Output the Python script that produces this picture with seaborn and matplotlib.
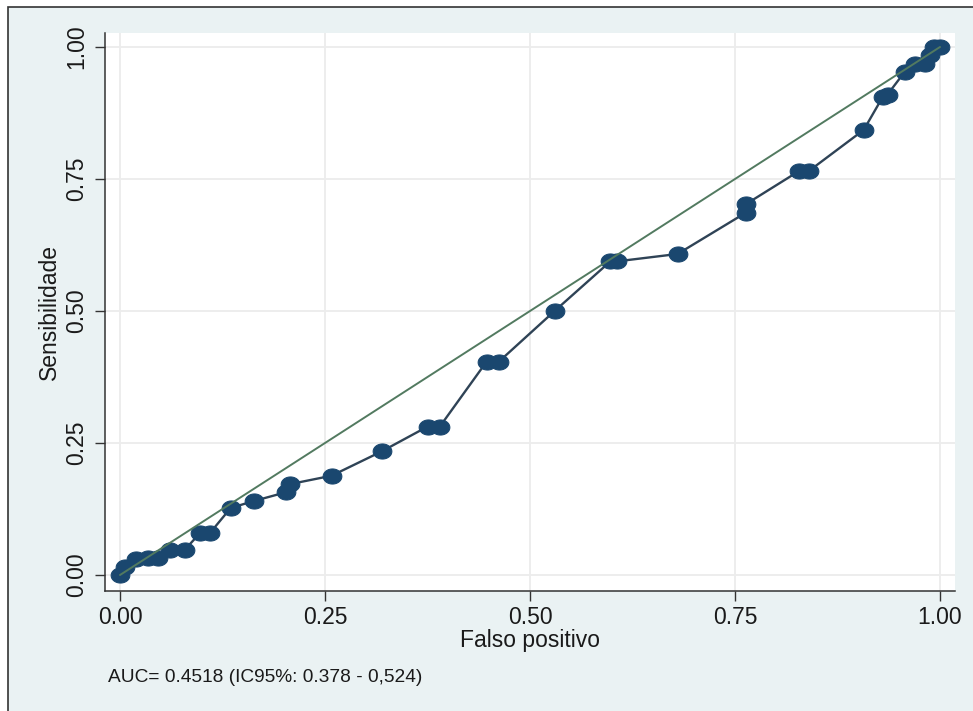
import matplotlib
matplotlib.use("Agg")
import matplotlib.pyplot as plt
import numpy as np
import pandas as pd
import seaborn as sns
from matplotlib.patches import Rectangle
from matplotlib.path import Path

# ROC points
falso_positivo = [0.000, 0.006, 0.020, 0.034, 0.046, 0.061, 0.079, 0.098, 0.110,
                  0.135, 0.163, 0.203, 0.207, 0.258, 0.319, 0.375, 0.390, 0.447,
                  0.462, 0.530, 0.598, 0.606, 0.680, 0.763, 0.764, 0.828, 0.840,
                  0.907, 0.930, 0.936, 0.957, 0.970, 0.982, 0.988, 0.993, 1.000]
sensibilidade = [0.000, 0.016, 0.030, 0.032, 0.032, 0.048, 0.048, 0.080, 0.080,
                 0.127, 0.140, 0.157, 0.172, 0.188, 0.234, 0.281, 0.281, 0.404,
                 0.404, 0.500, 0.594, 0.594, 0.608, 0.686, 0.703, 0.765, 0.765,
                 0.843, 0.905, 0.910, 0.953, 0.967, 0.967, 0.985, 1.000, 1.000]
ticks = [0.0, 0.25, 0.5, 0.75, 1.0]
tick_labels = ["0.00", "0.25", "0.50", "0.75", "1.00"]
auc_text = "AUC= 0.4518 (IC95%: 0.378 - 0,524)"

roc = pd.DataFrame({"fp": falso_positivo, "sens": sensibilidade})
ref = pd.DataFrame({"fp": [0.0, 1.0], "sens": [0.0, 1.0]})

sns.set_theme(style="whitegrid")
plt.rcParams["font.family"] = ["Liberation Sans", "DejaVu Sans"]

BG = "#eaf2f3"
NAVY = "#1a476f"

fig = plt.figure(figsize=(9.73, 7.11), dpi=100)
fig.patch.set_facecolor("white")
fig.patches.append(Rectangle((8 / 973, -0.1), 1.2, 1.1 - 7 / 711, transform=fig.transFigure,
                             facecolor=BG, edgecolor="#333333", linewidth=1.2, zorder=-10))

ax = fig.add_axes([105 / 973, 1 - 591 / 711, 850 / 973, 558 / 711])
ax.set_facecolor("white")

# slightly wide elliptical marker, like the reference
t = np.linspace(0, 2 * np.pi, 40)
ellipse = Path(np.column_stack([0.62 * np.cos(t), 0.5 * np.sin(t)]), closed=True)

sns.lineplot(data=roc, x="fp", y="sens", estimator=None, sort=False, ax=ax,
             color="#2f4356", linewidth=1.7, marker=ellipse, markersize=13.5,
             markerfacecolor=NAVY, markeredgecolor=NAVY, zorder=3)
sns.lineplot(data=ref, x="fp", y="sens", estimator=None, sort=False, ax=ax,
             color="#527a60", linewidth=1.4, zorder=4)

ax.set_xlim(-15 / 820, 1 + 15 / 820)
ax.set_ylim(-16 / 528, 1 + 14 / 528)
ax.set_xticks(ticks)
ax.set_xticklabels(tick_labels)
ax.set_yticks(ticks)
ax.set_yticklabels(tick_labels, rotation=90, va="center")

ax.grid(True, color="#ececec", linewidth=1.3)
for side in ["top", "right"]:
    ax.spines[side].set_visible(False)
for side in ["left", "bottom"]:
    ax.spines[side].set_visible(True)
    ax.spines[side].set_color("#333333")
    ax.spines[side].set_linewidth(1.1)

ax.tick_params(axis="both", which="major", length=7, width=1.0, color="#333333",
               labelsize=16.5, labelcolor="#1a1a1a", bottom=True, left=True)
ax.tick_params(axis="x", pad=4)
ax.tick_params(axis="y", pad=5)

ax.set_xlabel("Falso positivo", fontsize=16.5, color="#1a1a1a")
ax.set_ylabel("Sensibilidade", fontsize=16.5, color="#1a1a1a")
ax.xaxis.set_label_coords(0.5, -0.068)
ax.yaxis.set_label_coords(-0.052, 0.5)

fig.text(108 / 973, 1 - 677 / 711, auc_text, fontsize=13.8, color="#1a1a1a", va="center", ha="left")

fig.savefig("out.png", dpi=100, facecolor=fig.get_facecolor())
